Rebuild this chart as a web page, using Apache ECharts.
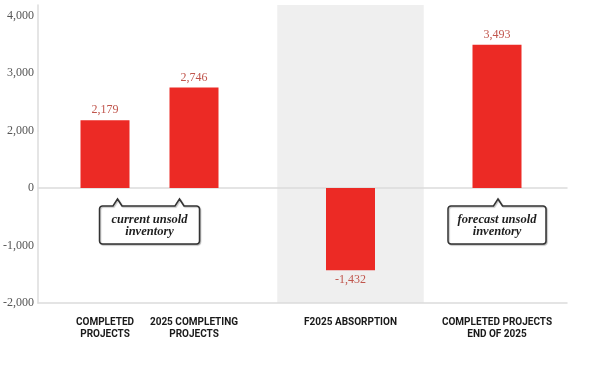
<!DOCTYPE html>
<html><head><meta charset="utf-8">
<script src="https://cdn.jsdelivr.net/npm/echarts@6/dist/echarts.min.js"></script>
<style>html,body{margin:0;padding:0;background:#fff}#c{width:596px;height:385px}</style>
</head><body><div id="c"></div>
<script>
// ---- data ----
const categories = ['COMPLETED\nPROJECTS', '2025 COMPLETING\nPROJECTS', 'F2025 ABSORPTION', 'COMPLETED PROJECTS\nEND OF 2025'];
const values = [2179, 2746, -1432, 3493];
const yTickLabels = [-2000, -1000, 0, 2000, 3000, 4000];
const calloutTexts = ['current unsold\ninventory', 'forecast unsold\ninventory'];

// ---- layout / style ----
const RED = '#ec2a25';
const Y_MIN = -2000, Y_MAX = 4183;
const yBreaks = [{ start: 1000, end: 2000, gap: 0 }];
const serif = '"Liberation Serif", "Times New Roman", serif';

function yAxisBase(extra) {
  return Object.assign({
    type: 'value', min: Y_MIN, max: Y_MAX, interval: 1000,
    breaks: yBreaks,
    breakArea: { itemStyle: { color: 'rgba(0,0,0,0)', borderColor: 'rgba(0,0,0,0)', borderWidth: 0, opacity: 0 } },
    breakLabelLayout: { moveOverlap: false },
    splitLine: { show: false }, axisTick: { show: false }
  }, extra);
}

const leftCats = categories.slice(0, 2), rightCats = categories.slice(2);
function barData(vals) {
  return vals.map(v => ({
    value: v,
    label: { position: v < 0 ? 'bottom' : 'top' }
  }));
}
const barLabel = {
  show: true, distance: 4, color: '#c0554c', fontFamily: serif, fontSize: 12,
  formatter: p => p.value.toLocaleString('en-US')
};
const catLabel = {
  color: '#1a1a1a', fontFamily: 'Roboto, sans-serif', fontWeight: 'bold', fontSize: 10,
  lineHeight: 11.5, margin: 14, interval: 0
};

const chart = echarts.init(document.getElementById('c'), null, { renderer: 'canvas' });
chart.setOption({
  animation: false,
  grid: [
    { left: 37, right: 29, top: 5, bottom: 82 },
    { left: 60.5, width: 178, top: 5, bottom: 82 },
    { left: 277.25, width: 293, top: 5, bottom: 82 }
  ],
  xAxis: [
    { gridIndex: 0, type: 'value', min: 0, max: 1, position: 'bottom',
      axisLine: { show: true, onZero: false, lineStyle: { color: '#dcdcdc', width: 1.5 } },
      axisLabel: { show: false }, axisTick: { show: false }, splitLine: { show: false } },
    { gridIndex: 0, type: 'value', min: 0, max: 1, position: 'top',
      axisLine: { show: true, onZero: true, lineStyle: { color: '#dcdcdc', width: 1.5 } },
      axisLabel: { show: false }, axisTick: { show: false }, splitLine: { show: false } },
    { gridIndex: 1, type: 'category', data: leftCats, position: 'bottom',
      axisLine: { show: false, onZero: false }, axisTick: { show: false }, axisLabel: catLabel },
    { gridIndex: 2, type: 'category', data: rightCats, position: 'bottom',
      axisLine: { show: false, onZero: false }, axisTick: { show: false }, axisLabel: catLabel,
      splitArea: { show: true, areaStyle: { color: ['#efefef', 'rgba(0,0,0,0)'] } } }
  ],
  yAxis: [
    yAxisBase({ gridIndex: 0,
      axisLine: { show: true, lineStyle: { color: '#dcdcdc', width: 1.5 } },
      axisLabel: { show: true, margin: 4, color: '#555', fontFamily: serif, fontSize: 12,
        formatter: v => yTickLabels.includes(v) ? v.toLocaleString('en-US') : '' } }),
    yAxisBase({ gridIndex: 1, show: false }),
    yAxisBase({ gridIndex: 2, show: false })
  ],
  series: [
    { type: 'bar', xAxisIndex: 2, yAxisIndex: 1, data: barData(values.slice(0, 2)),
      barWidth: 49, itemStyle: { color: RED }, label: barLabel, z: 3 },
    { type: 'bar', xAxisIndex: 3, yAxisIndex: 2, data: barData(values.slice(2)),
      barWidth: 49, itemStyle: { color: RED }, label: barLabel, z: 3 }
  ]
});

// ---- callouts anchored to bars ----
function px(grid, idx) { return chart.convertToPixel({ gridIndex: grid }, [idx, 0]); }
const b0 = px(1, 0), b1 = px(1, 1), b3 = px(2, 1);
const zeroY = b0[1];

function arc(pts, cx, cy, r, a0, a1) {
  const n = 4;
  for (let i = 0; i <= n; i++) {
    const a = a0 + (a1 - a0) * i / n;
    pts.push([cx + r * Math.cos(a), cy + r * Math.sin(a)]);
  }
}
function calloutPoints(cx, w, top, h, notches) {
  const x0 = cx - w / 2, x1 = cx + w / 2, y0 = top, y1 = top + h, r = 3, nw = 4.5, nh = 7;
  const P = Math.PI, pts = [];
  arc(pts, x0 + r, y0 + r, r, P, 1.5 * P);
  notches.slice().sort((a, b) => a - b).forEach(n => {
    pts.push([n - nw, y0], [n, y0 - nh], [n + nw, y0]);
  });
  arc(pts, x1 - r, y0 + r, r, 1.5 * P, 2 * P);
  arc(pts, x1 - r, y1 - r, r, 0, 0.5 * P);
  arc(pts, x0 + r, y1 - r, r, 0.5 * P, P);
  return pts;
}
function callout(cx, w, notches, text) {
  const top = zeroY + 18, h = 38;
  return [
    { type: 'polygon', z: 10, shape: { points: calloutPoints(cx, w, top, h, notches) },
      style: { fill: '#fff', stroke: '#333', lineWidth: 1.5,
        shadowColor: 'rgba(0,0,0,0.25)', shadowOffsetX: 1, shadowOffsetY: 1, shadowBlur: 1 } },
    { type: 'text', z: 11, x: cx, y: top + h / 2 + 1,
      style: { text: text, fill: '#1e1e1e', font: 'italic bold 12.5px ' + serif,
        align: 'center', verticalAlign: 'middle', lineHeight: 12 } }
  ];
}
const mid01 = (b0[0] + b1[0]) / 2;
chart.setOption({
  graphic: [].concat(
    callout(mid01, 100, [mid01 - 32, mid01 + 30], calloutTexts[0]),
    callout(b3[0], 98, [b3[0] + 1], calloutTexts[1])
  )
});
</script>
</body></html>
